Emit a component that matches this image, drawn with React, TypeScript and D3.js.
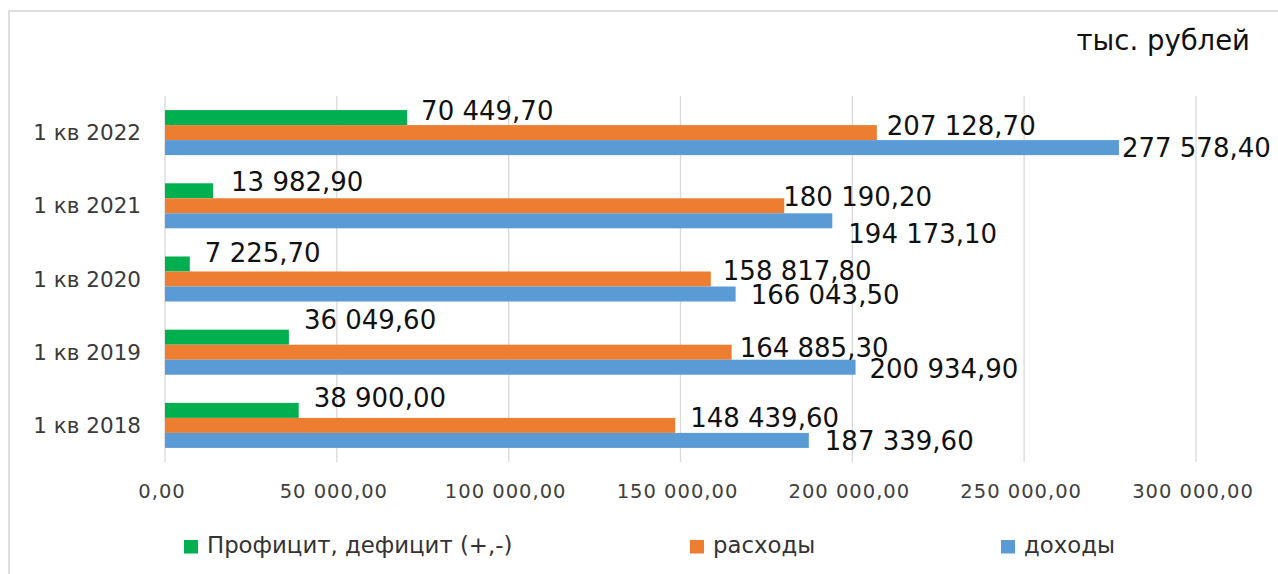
import React, { useEffect, useRef } from 'react';
import * as d3 from 'd3';

const categories = ['1 кв 2018', '1 кв 2019', '1 кв 2020', '1 кв 2021', '1 кв 2022'];
const balance = [38900.0, 36049.6, 7225.7, 13982.9, 70449.7];
const expenses = [148439.6, 164885.3, 158817.8, 180190.2, 207128.7];
const income = [187339.6, 200934.9, 166043.5, 194173.1, 277578.4];
const seriesNames = ['Профицит, дефицит (+,-)', 'расходы', 'доходы'];
const xTicks = [0, 50000, 100000, 150000, 200000, 250000, 300000];
const unitLabel = 'тыс. рублей';

// manual label nudges (dx from bar end, dy of baseline from bar centre), as moved in the original
const labelNudge: Array<Array<[number, number]>> = [
  [[15, -3], [15, -8], [15, -2], [18, 0], [14, 2]],
  [[15, 2], [8, 4.5], [12, 1], [-1, 0], [10, 2]],
  [[16, 10], [14, 10.5], [15, 10], [16, 22], [3, 9]],
];

const colors = ['#00B050', '#ED7D31', '#5B9BD5'];
const W = 1278;
const H = 574;
const FONT = '"DejaVu Sans", sans-serif';

const ruLocale = d3.formatLocale({
  decimal: ',',
  thousands: '\u00a0',
  grouping: [3],
  currency: ['', ''],
});
const fmt = ruLocale.format(',.2f');

const App: React.FC = () => {
  const svgRef = useRef<SVGSVGElement>(null);

  useEffect(() => {
    if (!svgRef.current) return;
    const svg = d3.select(svgRef.current);
    svg.selectAll('*').remove();

    const series = [balance, expenses, income];

    // chart frame
    svg.append('rect')
      .attr('x', 9)
      .attr('y', 11)
      .attr('width', W + 20)
      .attr('height', H + 20)
      .attr('fill', '#fff')
      .attr('stroke', '#d4d4d4')
      .attr('stroke-width', 1.5);

    const x = d3.scaleLinear().domain([0, 300000]).range([165, 1196]);
    const y = d3.scaleBand<string>()
      .domain(categories.slice().reverse())
      .range([96, 462])
      .paddingInner(0.385)
      .paddingOuter(0.1925);
    const ySub = d3.scaleBand<number>()
      .domain([0, 1, 2])
      .range([0, y.bandwidth()]);

    // gridlines
    svg.append('g')
      .selectAll('line')
      .data(xTicks)
      .enter()
      .append('line')
      .attr('x1', d => x(d))
      .attr('x2', d => x(d))
      .attr('y1', 96)
      .attr('y2', 462)
      .attr('stroke', '#d9d9d9')
      .attr('stroke-width', 1.3);

    // tick labels
    svg.append('g')
      .selectAll('text')
      .data(xTicks)
      .enter()
      .append('text')
      .attr('x', d => x(d) - 3)
      .attr('y', 498)
      .attr('text-anchor', 'middle')
      .style('font-family', FONT)
      .style('font-size', '19.5px')
      .style('letter-spacing', '1px')
      .attr('fill', '#404040')
      .text(d => fmt(d));

    // category labels
    svg.append('g')
      .selectAll('text')
      .data(categories)
      .enter()
      .append('text')
      .attr('x', 141)
      .attr('y', d => (y(d) || 0) + y.bandwidth() / 2 + 7.5)
      .attr('text-anchor', 'end')
      .style('font-family', FONT)
      .style('font-size', '21.5px')
      .attr('fill', '#3a3a3a')
      .text(d => d);

    // bars
    series.forEach((vals, si) => {
      svg.append('g')
        .selectAll('rect')
        .data(vals)
        .enter()
        .append('rect')
        .attr('x', x(0))
        .attr('y', (_, i) => (y(categories[i]) || 0) + (ySub(si) || 0))
        .attr('width', d => x(d) - x(0))
        .attr('height', ySub.bandwidth())
        .attr('fill', colors[si]);
    });

    // data labels
    series.forEach((vals, si) => {
      svg.append('g')
        .selectAll('text')
        .data(vals)
        .enter()
        .append('text')
        .attr('x', (d, i) => x(d) + labelNudge[si][i][0])
        .attr('y', (_, i) => (y(categories[i]) || 0) + (ySub(si) || 0) + ySub.bandwidth() / 2 + labelNudge[si][i][1])
        .style('font-family', FONT)
        .style('font-size', '26px')
        .attr('fill', '#111')
        .text(d => fmt(d).replace('\u00a0', ' '));
    });

    // unit label
    svg.append('text')
      .attr('x', 1250)
      .attr('y', 50)
      .attr('text-anchor', 'end')
      .style('font-family', FONT)
      .style('font-size', '27.5px')
      .attr('fill', '#111')
      .text(unitLabel);

    // legend
    const legendX = [184, 690, 1001];
    const legend = svg.append('g');
    seriesNames.forEach((name, i) => {
      legend.append('rect')
        .attr('x', legendX[i])
        .attr('y', 540)
        .attr('width', 14)
        .attr('height', 13.5)
        .attr('fill', colors[i]);
      legend.append('text')
        .attr('x', legendX[i] + 23)
        .attr('y', 553)
        .style('font-family', FONT)
        .style('font-size', '22.8px')
        .attr('fill', '#333')
        .text(name);
    });
  }, []);

  return (
    <div style={{ position: 'fixed', left: 0, top: 0, width: W, height: H, background: '#fff' }}>
      <svg ref={svgRef} width={W} height={H} style={{ display: 'block' }} />
    </div>
  );
};

export default App;
